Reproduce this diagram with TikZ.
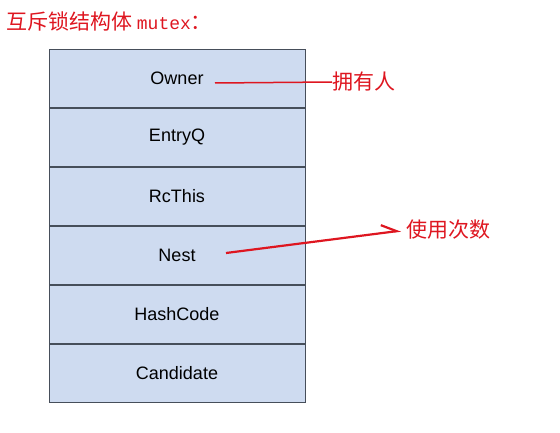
\documentclass[tikz,border=0pt]{standalone}
\usepackage{fontspec}
\setmainfont{Liberation Sans}
\newfontfamily\cjk{Noto Sans CJK SC}
\newfontfamily\monofont{Liberation Mono}
\usetikzlibrary{positioning,arrows.meta}
\definecolor{cellblue}{RGB}{206,219,240}
\definecolor{cellline}{RGB}{70,78,90}
\definecolor{notered}{RGB}{222,22,32}
\tikzset{
  cell/.style={draw=cellline,fill=cellblue,line width=0.8pt,minimum width=256pt,minimum height=58.2pt,inner sep=0pt,font=\fontsize{18}{20}\selectfont},
  note/.style={text=notered,font=\cjk\fontsize{21}{23}\selectfont,inner sep=0pt,anchor=west},
}
\begin{document}
\begin{tikzpicture}[x=1pt,y=-1pt]
\useasboundingbox (0,0) rectangle (560,433);
\node[note] (title) at (6,22) {互斥锁结构体 {\monofont\fontsize{18}{20}\selectfont mutex}：};
\node[cell] (owner) at (177,78.5) {Owner};
\node[cell,below=0pt of owner] (entryq) {EntryQ};
\node[cell,below=0pt of entryq] (rcthis) {RcThis};
\node[cell,below=0pt of rcthis] (nest) {Nest};
\node[cell,below=0pt of nest] (hashcode) {HashCode};
\node[cell,below=0pt of hashcode] (candidate) {Candidate};
\node[note] (lblowner) at (332,82) {拥有人};
\node[note] (lblnest) at (406,230) {使用次数};
\coordinate (ownerpt) at (215,83);
\coordinate (nestpt) at (226,253);
\draw[notered,line width=1.5pt] (ownerpt) -- (lblowner.west);
\draw[notered,line width=2.2pt,shorten >=5pt,-{Straight Barb[left,length=15pt,width=16pt]}] (nestpt) -- (lblnest.west);
\end{tikzpicture}
\end{document}
